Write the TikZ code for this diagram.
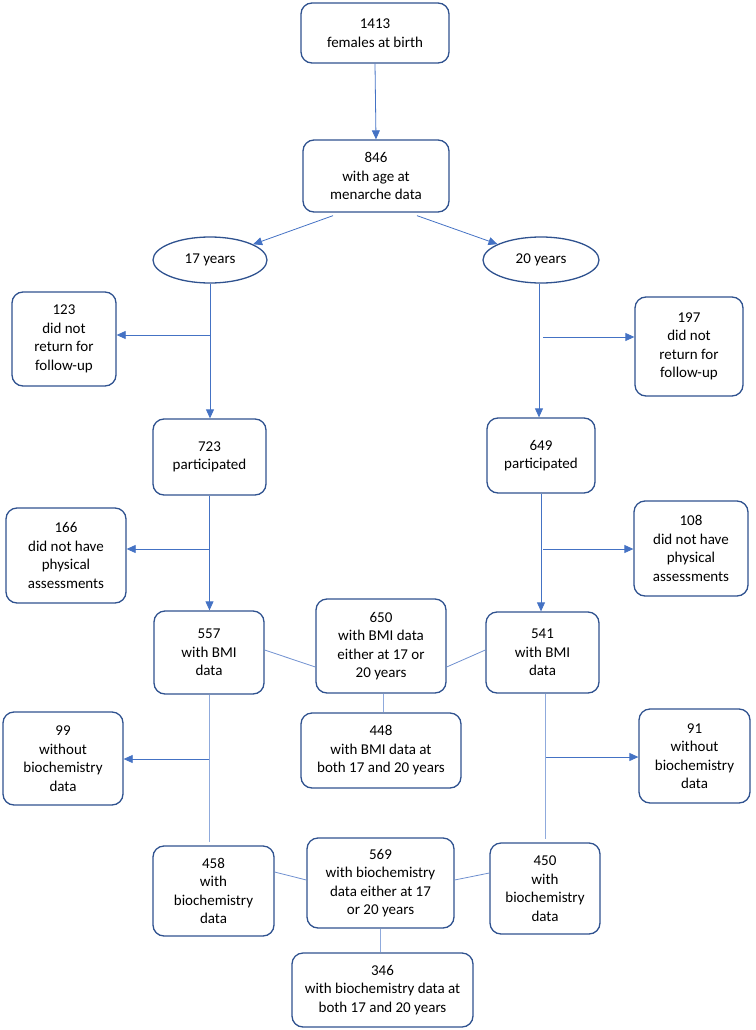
\documentclass[tikz,border=0pt]{standalone}
\usepackage{fontspec}
\setmainfont{Carlito}
\usetikzlibrary{arrows.meta,shapes.geometric,calc}
\definecolor{bdr}{HTML}{2F528F}
\definecolor{arrc}{HTML}{4472C4}
\definecolor{lite}{HTML}{8FAADC}
\definecolor{mid}{HTML}{6F90D0}
\tikzset{
  box/.style={draw=bdr, line width=1.3pt, rounded corners=11pt, align=center, inner sep=0pt,
    font=\fontsize{15}{18.5}\selectfont, text=black},
  oval/.style={draw=bdr, line width=1.3pt, ellipse, inner sep=0pt, font=\fontsize{15}{18.5}\selectfont},
  arr/.style={draw=arrc, line width=0.8pt, -{Triangle[length=9pt,width=8pt]}},
  conn/.style={draw=arrc, line width=0.8pt},
  lconn/.style={draw=lite, line width=1pt},
  mconn/.style={draw=mid, line width=0.8pt}
}
\begin{document}
\begin{tikzpicture}[x=1pt,y=-1pt]
\useasboundingbox (0,0) rectangle (755,1030);
\node[box, minimum width=148pt, minimum height=60pt] (n1413) at (375,33) {1413\\females at birth};
\node[box, minimum width=146pt, minimum height=72pt] (n846) at (376,176) {846\\with age at\\menarche data};
\node[oval, minimum width=114pt, minimum height=46pt] (e17) at (210,260) {17 years};
\node[oval, minimum width=116pt, minimum height=46pt] (e20) at (541,260) {20 years};
\node[box, minimum width=104pt, minimum height=94pt] (n123) at (64,339) {123\\did not\\return for\\follow-up};
\node[box, minimum width=113pt, minimum height=76pt] (n723) at (209.5,457) {723\\participated};
\node[box, minimum width=108pt, minimum height=99pt] (n197) at (689,346.5) {197\\did not\\return for\\follow-up};
\node[box, minimum width=108pt, minimum height=75pt] (n649) at (541,455.5) {649\\participated};
\node[box, minimum width=120pt, minimum height=95pt] (n166) at (66,555.5) {166\\did not have\\physical\\assessments};
\node[box, minimum width=114pt, minimum height=95pt] (n108) at (691,548.5) {108\\did not have\\physical\\assessments};
\node[box, minimum width=110pt, minimum height=83pt] (n557) at (209,652.5) {557\\with BMI\\data};
\node[box, minimum width=130pt, minimum height=94pt] (n650) at (381,646) {650\\with BMI data\\either at 17 or\\20 years};
\node[box, minimum width=113pt, minimum height=81pt] (n541) at (542.5,652.5) {541\\with BMI\\data};
\node[box, minimum width=160pt, minimum height=75pt] (n448) at (381,750.5) {448\\with BMI data at\\both 17 and 20 years};
\node[box, minimum width=120pt, minimum height=93pt] (n99) at (63,758.5) {99\\without\\biochemistry\\data};
\node[box, minimum width=111pt, minimum height=94pt] (n91) at (694.5,756) {91\\without\\biochemistry\\data};
\node[box, minimum width=121pt, minimum height=90pt] (n458) at (213.5,891) {458\\with\\biochemistry\\data};
\node[box, minimum width=147pt, minimum height=90pt] (n569) at (380.5,883) {569\\with biochemistry\\data either at 17\\or 20 years};
\node[box, minimum width=110pt, minimum height=91pt] (n450) at (545,888.5) {450\\with\\biochemistry\\data};
\node[box, minimum width=181pt, minimum height=74pt] (n346) at (382.5,990) {346\\with biochemistry data at\\both 17 and 20 years};
% top
\draw[arr] (n1413.south) -- (n846.north);
\draw[arr] ([shift={(-43pt,-3pt)}]n846.south) -- (e17.20);
\draw[arr] ([shift={(41pt,-3pt)}]n846.south) -- (e20.160);
% 17 years branch
\draw[arr] (e17.south) -- (e17.south |- n723.north);
\coordinate (b17) at (e17.south |- 0,335);
\draw[arr] (b17) -- (b17 -| n123.east);
\draw[arr] (n723.south) -- (n723.south |- n557.north);
\coordinate (b723) at (n723.south |- 0,549);
\draw[arr] (b723) -- (b723 -| n166.east);
% 20 years branch
\draw[arr] ([xshift=-2pt]e20.south) -- ([xshift=-2pt]e20.south |- n649.north);
\coordinate (b20) at (543,337);
\draw[arr] (b20) -- (b20 -| n197.west);
\draw[arr] (n649.south) -- (n649.south |- n541.north);
\coordinate (b649) at (543,549);
\draw[arr] (b649) -- (b649 -| n108.west);
% BMI links
\draw[mconn] ([yshift=2.5pt]n557.east) -- ([yshift=-21pt]n650.west);
\draw[mconn] ([yshift=-21pt]n650.east) -- ([yshift=2.5pt]n541.west);
\draw[lconn] ([xshift=2pt]n650.south) -- ([xshift=2pt]n650.south |- n448.north);
% biochemistry
\draw[lconn] (n557.south) -- ([yshift=3pt]n557.south |- n458.north);
\coordinate (b557) at (n557.south |- 0,759);
\draw[arr] (b557) -- (b557 -| n99.east);
\draw[lconn] (n450.north |- n541.south) -- ([yshift=3pt]n450.north);
\coordinate (b541) at (546,757);
\draw[arr] (b541) -- (b541 -| n91.west);
\draw[mconn] ([yshift=19pt]n458.east) -- ([yshift=3pt]n569.west);
\draw[mconn] ([yshift=3pt]n569.east) -- ([yshift=15.5pt]n450.west);
\draw[lconn] (n569.south) -- (n569.south |- n346.north);
\end{tikzpicture}
\end{document}
